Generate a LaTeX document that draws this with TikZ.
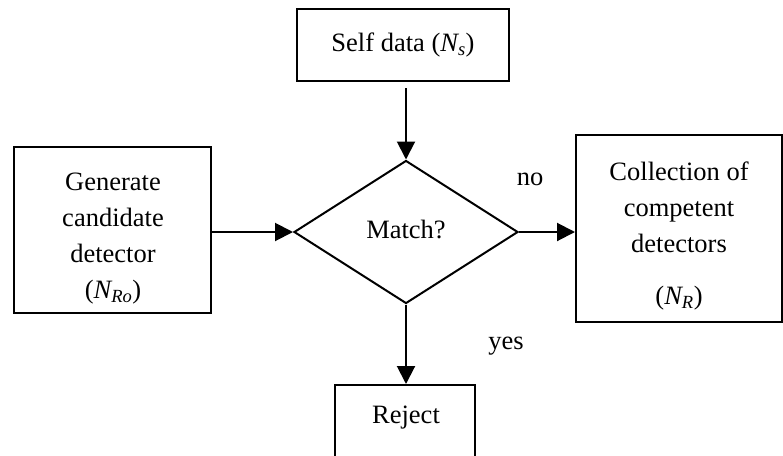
\documentclass[tikz,border=0pt]{standalone}
\usepackage{fontspec}
\setmainfont{Liberation Serif}
\usetikzlibrary{arrows.meta,shapes.geometric}
\begin{document}
\begin{tikzpicture}[x=1pt,y=1pt,
  every node/.style={font=\fontsize{26.5}{36}\selectfont, inner sep=0pt},
  box/.style={draw, line width=2pt, align=center},
  conn/.style={line width=2pt, -{Triangle[length=18pt,width=18pt]}}]
\clip (0,0) rectangle (783,-455);
\useasboundingbox (0,0) rectangle (783,-455);
\node[box, minimum width=212pt, minimum height=72pt] (self) at (403,-45) {Self data (\textit{N\textsubscript{s}})};
\node[box, minimum width=197pt, minimum height=166pt] (gen) at (112.5,-230) {};
\node[align=center] (gentext) at (113,-239) {Generate\\candidate\\detector\\(\textit{N\textsubscript{Ro}})};
\node[draw, line width=2pt, diamond, aspect=1.566, minimum width=224pt, minimum height=143pt] (match) at (406,-232) {};
\node (matchtext) at (406,-229) {Match?};
\node[box, minimum width=206pt, minimum height=187pt] (coll) at (679,-228.5) {};
\node[align=center] (colltext) at (679,-207) {Collection of\\competent\\detectors};
\node (nr) at (679,-298) {(\textit{N\textsubscript{R}})};
\node[box, minimum width=140pt, minimum height=100pt, anchor=north] (rej) at (405,-384) {};
\node (rejtext) at (406,-418) {Reject};
\node (no) at (530,-179) {no};
\node (yes) at (506,-346) {yes};
\coordinate (selfout) at ([yshift=-6pt]match.north |- self.south);
\draw[conn] (selfout) -- (match.north);
\draw[conn] (gen.east |- match.west) -- (match.west);
\draw[conn] (match.east) -- (match.east -| coll.west);
\draw[conn] (match.south) -- (match.south |- rej.north);
\end{tikzpicture}
\end{document}
